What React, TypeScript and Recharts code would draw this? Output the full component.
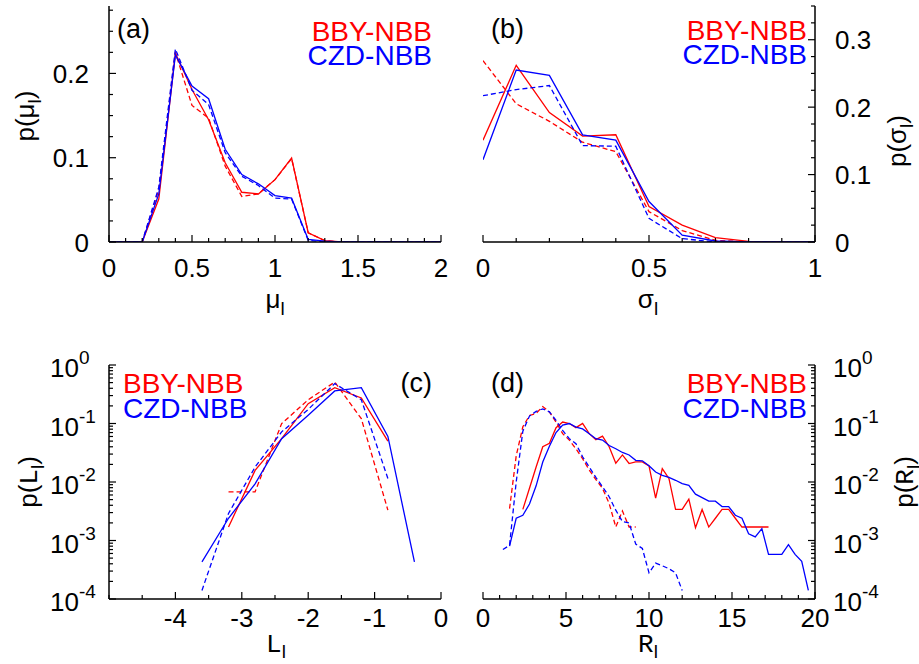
import React from 'react';
import { LineChart, Line, XAxis, YAxis } from 'recharts';

const FONT = '"Liberation Sans", Arial, Helvetica, sans-serif';
const MONO = '"Liberation Mono", "DejaVu Sans Mono", monospace';
const RED = '#ff0000';
const BLUE = '#0000ff';
const SERIES_NAMES = ['BBY-NBB', 'CZD-NBB'];

// ---------- Panel (a): p(mu_l) ----------
const muX = [0, 0.1, 0.2, 0.3, 0.4, 0.5, 0.6, 0.7, 0.8, 0.9, 1, 1.1, 1.2, 1.3, 1.4, 1.5, 1.6, 1.7, 1.8, 1.9, 2];
const muBBY = [0, 0, 0, 0.051, 0.224, 0.181, 0.145, 0.094, 0.059, 0.057, 0.074, 0.0996, 0.011, 0.0016, 0, 0, 0, 0, 0, 0, 0];
const muBBYd = [0, 0, 0, 0.062, 0.225, 0.162, 0.147, 0.09, 0.054, 0.057, 0.074, 0.099, 0.011, 0.0016, 0, 0, 0, 0, 0, 0, 0];
const muCZD = [0, 0, 0, 0.057, 0.222, 0.185, 0.17, 0.11, 0.08, 0.069, 0.055, 0.052, 0.003, 0.001, 0, 0, 0, 0, 0, 0, 0];
const muCZDd = [0, 0, 0, 0.065, 0.229, 0.18, 0.163, 0.106, 0.078, 0.067, 0.052, 0.051, 0.002, 0, 0, 0, 0, 0, 0, 0, 0];
const muXTicks = [0, 0.1, 0.2, 0.3, 0.4, 0.5, 0.6, 0.7, 0.8, 0.9, 1, 1.1, 1.2, 1.3, 1.4, 1.5, 1.6, 1.7, 1.8, 1.9, 2];
const muXMajor = [0, 0.5, 1, 1.5, 2];
const muYTicks = [0, 0.025, 0.05, 0.075, 0.1, 0.125, 0.15, 0.175, 0.2, 0.225, 0.25, 0.275];
const muYMajor = [0, 0.1, 0.2];

// ---------- Panel (b): p(sigma_l) ----------
const sigX = [0, 0.1, 0.2, 0.3, 0.4, 0.5, 0.6, 0.7, 0.8, 0.9, 1];
const sigBBY = [0.151, 0.262, 0.192, 0.157, 0.159, 0.0525, 0.025, 0.0065, 0.001, 0, 0];
const sigBBYd = [0.269, 0.205, 0.179, 0.148, 0.134, 0.045, 0.017, 0.0025, 0, 0, 0];
const sigCZD = [0.122, 0.255, 0.247, 0.159, 0.151, 0.06, 0.01, 0.0015, 0, 0, 0];
const sigCZDd = [0.217, 0.226, 0.232, 0.143, 0.142, 0.035, 0.005, 0, 0, 0, 0];
const sigXTicks = [0, 0.1, 0.2, 0.3, 0.4, 0.5, 0.6, 0.7, 0.8, 0.9, 1];
const sigXMajor = [0, 0.5, 1];
const sigYTicks = [0, 0.025, 0.05, 0.075, 0.1, 0.125, 0.15, 0.175, 0.2, 0.225, 0.25, 0.275, 0.3, 0.325, 0.35];
const sigYMajor = [0, 0.1, 0.2, 0.3];

// ---------- Panel (c): p(L_l) ----------
const LX = [-3.6, -3.2, -2.8, -2.4, -2.0, -1.6, -1.2, -0.8, -0.4];
const LBBY = [null, 0.0017, 0.0158, 0.055, 0.218, 0.41, 0.273, 0.05, null];
const LBBYd = [null, 0.0068, 0.0068, 0.0995, 0.255, 0.51, 0.121, 0.0033, null];
const LCZD = [0.00043, 0.0024, 0.0093, 0.055, 0.138, 0.36, 0.41, 0.06, 0.00043];
const LCZDd = [0.00014, 0.0029, 0.018, 0.072, 0.174, 0.48, 0.255, 0.0115, null];
const LXTicks = [-5, -4.5, -4, -3.5, -3, -2.5, -2, -1.5, -1, -0.5, 0];
const LXMajor = [-4, -3, -2, -1, 0];

// ---------- Panel (d): p(R_l) ----------
const RX = [1.2, 1.6, 2.0, 2.4, 2.8, 3.2, 3.6, 4.0, 4.4, 4.8, 5.2, 5.6, 6.0, 6.4, 6.8, 7.2, 7.6, 8.0, 8.4, 8.8, 9.2, 9.6, 10.0, 10.4, 10.8, 11.2, 11.6, 12.0, 12.4, 12.8, 13.2, 13.6, 14.0, 14.4, 14.8, 15.2, 15.6, 16.0, 16.4, 16.8, 17.2, 17.6, 18.0, 18.4, 18.8, 19.2, 19.6];
const RBBY = [null, null, null, 0.0034, 0.0078, 0.018, 0.04, 0.046, 0.085, 0.106, 0.1, 0.085, 0.1, 0.067, 0.053, 0.061, 0.04, 0.021, 0.029, 0.0207, 0.022, 0.022, 0.0188, 0.0053, 0.017, 0.0115, 0.0034, 0.0034, 0.0051, 0.00165, 0.0034, 0.0017, 0.0024, 0.0034, 0.0034, 0.0024, 0.0017, 0.0017, 0.0017, 0.0017, 0.0017, null, null, null, null, null, null];
const RBBYd = [null, 0.0035, 0.028, 0.088, 0.137, 0.149, 0.195, 0.158, 0.106, 0.067, 0.052, 0.037, 0.025, 0.016, 0.011, 0.0078, 0.0043, 0.0017, 0.0032, 0.0017, 0.0017, null, null, null, null, null, null, null, null, null, null, null, null, null, null, null, null, null, null, null, null, null, null, null, null, null, null];
const RCZD = [null, 0.0008, 0.0024, 0.0027, 0.0042, 0.0086, 0.022, 0.041, 0.07, 0.094, 0.1, 0.087, 0.081, 0.067, 0.055, 0.052, 0.042, 0.037, 0.032, 0.029, 0.0235, 0.023, 0.019, 0.0148, 0.013, 0.012, 0.0107, 0.0094, 0.0088, 0.0062, 0.0054, 0.0047, 0.0047, 0.0038, 0.0038, 0.0027, 0.0024, 0.0013, 0.00115, 0.0016, 0.00058, 0.00058, 0.00058, 0.00085, 0.00058, 0.00044, 0.00014];
const RCZDd = [0.0007, 0.00083, 0.01, 0.074, 0.134, 0.161, 0.178, 0.158, 0.113, 0.076, 0.055, 0.045, 0.027, 0.018, 0.012, 0.0083, 0.0056, 0.0033, 0.0021, 0.002, 0.00087, 0.00073, 0.00028, 0.00041, 0.00037, 0.00033, 0.00028, 0.00014, null, null, null, null, null, null, null, null, null, null, null, null, null, null, null, null, null, null, null];
const RXTicks = [0, 1, 2, 3, 4, 5, 6, 7, 8, 9, 10, 11, 12, 13, 14, 15, 16, 17, 18, 19, 20];
const RXMajor = [0, 5, 10, 15, 20];

// ---------- shared log axis ticks ----------
const LOG_TICKS = [
  0.0001, 0.0002, 0.0003, 0.0004, 0.0005, 0.0006, 0.0007, 0.0008, 0.0009,
  0.001, 0.002, 0.003, 0.004, 0.005, 0.006, 0.007, 0.008, 0.009,
  0.01, 0.02, 0.03, 0.04, 0.05, 0.06, 0.07, 0.08, 0.09,
  0.1, 0.2, 0.3, 0.4, 0.5, 0.6, 0.7, 0.8, 0.9, 1,
];
const LOG_MAJOR = [0.0001, 0.001, 0.01, 0.1, 1];

type Num = number | null;
const rows = (x: number[], a: Num[], b: Num[], c: Num[], d: Num[]) =>
  x.map((v, i) => ({ x: v, rs: a[i], rd: b[i], bs: c[i], bd: d[i] }));

const isMajor = (v: number, majors: number[]) =>
  majors.some((m) => Math.abs(m - v) <= 1e-6 * Math.max(Math.abs(m), 1e-9));

type Side = 'bottom' | 'top' | 'left' | 'right';
interface TickCfg {
  side: Side;
  majors: number[];
  label?: 'lin' | 'log';
  off?: number;
}

const TICK_FS = 26;

function makeTick(cfg: TickCfg) {
  return (p: any) => {
    const x = Number(p.x);
    const y = Number(p.y);
    const v = Number(p.payload?.value);
    const major = isMajor(v, cfg.majors);
    const L = major ? 7 : 4;
    let x2 = x;
    let y2 = y;
    if (cfg.side === 'bottom') y2 = y - L;
    if (cfg.side === 'top') y2 = y + L;
    if (cfg.side === 'left') x2 = x + L;
    if (cfg.side === 'right') x2 = x - L;
    let label: React.ReactNode = null;
    if (major && cfg.label) {
      const base = { fontFamily: FONT, fontSize: TICK_FS, fill: '#000' } as const;
      if (cfg.side === 'bottom') {
        label = (
          <text x={x} y={y + (cfg.off ?? 35)} textAnchor="middle" {...base}>
            {String(v)}
          </text>
        );
      } else if (cfg.label === 'lin') {
        label =
          cfg.side === 'left' ? (
            <text x={x - 20} y={y + 9.5} textAnchor="end" {...base}>{String(v)}</text>
          ) : (
            <text x={x + 20} y={y + 9.5} textAnchor="start" {...base}>{String(v)}</text>
          );
      } else {
        const e = Math.round(Math.log10(v));
        label = (
          <text x={cfg.side === 'left' ? x - 59 : x + 18} y={y + 12} textAnchor="start" {...base}>
            10<tspan dy={-13} fontSize={19}>{String(e)}</tspan>
          </text>
        );
      }
    }
    return (
      <g>
        <line x1={x} y1={y} x2={x2} y2={y2} stroke="#000" strokeWidth={1.2} />
        {label}
      </g>
    );
  };
}

interface PanelCfg {
  left: number;
  top: number;
  w: number;
  h: number;
  data: any[];
  xDomain: [number, number];
  xTicks: number[];
  xMajor: number[];
  xOff: number;
  yDomain: [number, number];
  yTicks: number[];
  yMajor: number[];
  log: boolean;
  yRight: boolean;
  mTop: number;
  xH: number;
}

const AX = { stroke: '#000', strokeWidth: 1.5 };

function Panel(c: PanelCfg) {
  const yLabelKind = c.log ? 'log' : 'lin';
  const yScale = c.log ? 'log' : 'linear';
  const margin = c.yRight
    ? { top: c.mTop, right: 0, bottom: 0, left: 23 }
    : { top: c.mTop, right: 19, bottom: 0, left: 0 };
  const labeledYId = c.yRight ? 'r' : 'l';
  const common = { isAnimationActive: false, dot: false, xAxisId: 'b', yAxisId: labeledYId, type: 'linear' as const, strokeWidth: 1.3, connectNulls: false };
  return (
    <div style={{ position: 'absolute', left: c.left, top: c.top, width: c.w, height: c.h }}>
      <LineChart width={c.w} height={c.h} data={c.data} margin={margin}>
        <XAxis
          xAxisId="b"
          dataKey="x"
          type="number"
          domain={c.xDomain}
          allowDataOverflow
          ticks={c.xTicks}
          interval={0}
          height={c.xH}
          tickSize={0}
          tickMargin={0}
          tickLine={false}
          axisLine={AX}
          tick={makeTick({ side: 'bottom', majors: c.xMajor, label: 'lin', off: c.xOff })}
        />
        <XAxis
          xAxisId="t"
          orientation="top"
          mirror
          dataKey="x"
          type="number"
          domain={c.xDomain}
          allowDataOverflow
          ticks={c.xTicks}
          interval={0}
          height={0}
          tickSize={0}
          tickMargin={0}
          tickLine={false}
          axisLine={AX}
          tick={makeTick({ side: 'top', majors: c.xMajor })}
        />
        <YAxis
          yAxisId="l"
          orientation="left"
          mirror={c.yRight}
          type="number"
          scale={yScale}
          domain={c.yDomain}
          allowDataOverflow
          ticks={c.yTicks}
          interval={0}
          width={c.yRight ? 0 : 109}
          tickSize={0}
          tickMargin={0}
          tickLine={false}
          axisLine={AX}
          tick={makeTick({ side: 'left', majors: c.yMajor, label: c.yRight ? undefined : yLabelKind })}
        />
        <YAxis
          yAxisId="r"
          orientation="right"
          mirror={!c.yRight}
          type="number"
          scale={yScale}
          domain={c.yDomain}
          allowDataOverflow
          ticks={c.yTicks}
          interval={0}
          width={c.yRight ? 104 : 0}
          tickSize={0}
          tickMargin={0}
          tickLine={false}
          axisLine={AX}
          tick={makeTick({ side: 'right', majors: c.yMajor, label: c.yRight ? yLabelKind : undefined })}
        />
        <Line {...common} dataKey="rs" stroke={RED} />
        <Line {...common} dataKey="rd" stroke={RED} strokeDasharray="5 3" />
        <Line {...common} dataKey="bs" stroke={BLUE} />
        <Line {...common} dataKey="bd" stroke={BLUE} strokeDasharray="5 3" />
      </LineChart>
    </div>
  );
}

const T = { fontFamily: FONT, fontSize: 26, fill: '#000' } as const;
const LEG = { fontFamily: FONT, fontSize: 28 } as const;

function Overlay() {
  return (
    <svg width={919} height={664} style={{ position: 'absolute', left: 0, top: 0, pointerEvents: 'none' }}>
      {/* panel letters */}
      <text x={117} y={38} {...T} fontSize={27}>(a)</text>
      <text x={491} y={38} {...T} fontSize={27}>(b)</text>
      <text x={432} y={392} {...T} fontSize={27} textAnchor="end">(c)</text>
      <text x={491} y={392} {...T} fontSize={27}>(d)</text>

      {/* legends */}
      <text x={432} y={40.5} {...LEG} fill={RED} textAnchor="end">{SERIES_NAMES[0]}</text>
      <text x={432} y={65} {...LEG} fill={BLUE} textAnchor="end">{SERIES_NAMES[1]}</text>
      <text x={807} y={39.5} {...LEG} fill={RED} textAnchor="end">{SERIES_NAMES[0]}</text>
      <text x={807} y={63.5} {...LEG} fill={BLUE} textAnchor="end">{SERIES_NAMES[1]}</text>
      <text x={123} y={393} {...LEG} fill={RED}>{SERIES_NAMES[0]}</text>
      <text x={123} y={418} {...LEG} fill={BLUE}>{SERIES_NAMES[1]}</text>
      <text x={807} y={393} {...LEG} fill={RED} textAnchor="end">{SERIES_NAMES[0]}</text>
      <text x={807} y={418} {...LEG} fill={BLUE} textAnchor="end">{SERIES_NAMES[1]}</text>

      {/* x titles */}
      <text x={275} y={308} {...T} textAnchor="middle">
        μ<tspan fontSize={19} dy={7}>l</tspan>
      </text>
      <text x={648} y={308} {...T} textAnchor="middle">
        σ<tspan fontSize={19} dy={7}>l</tspan>
      </text>
      <text x={276} y={652} {...T} textAnchor="middle">
        <tspan fontFamily={MONO}>L</tspan><tspan fontSize={19} dy={6}>l</tspan>
      </text>
      <text x={648} y={652} {...T} textAnchor="middle">
        <tspan fontFamily={MONO}>R</tspan><tspan fontSize={19} dy={6}>l</tspan>
      </text>

      {/* y titles */}
      <text x={34} y={116} {...T} textAnchor="middle" transform="rotate(-90 34 116)">
        p(μ<tspan fontSize={19} dy={7}>l</tspan><tspan dy={-7}>)</tspan>
      </text>
      <text x={906} y={141} {...T} textAnchor="middle" transform="rotate(-90 906 141)">
        p(σ<tspan fontSize={19} dy={7}>l</tspan><tspan dy={-7}>)</tspan>
      </text>
      <text x={37} y={482} {...T} textAnchor="middle" transform="rotate(-90 37 482)">
        p(<tspan fontFamily={MONO}>L</tspan><tspan fontSize={19} dy={7}>l</tspan><tspan dy={-7}>)</tspan>
      </text>
      <text x={913} y={482} {...T} textAnchor="middle" transform="rotate(-90 913 482)">
        p(<tspan fontFamily={MONO}>R</tspan><tspan fontSize={19} dy={7}>l</tspan><tspan dy={-7}>)</tspan>
      </text>
    </svg>
  );
}

export default function App() {
  return (
    <div style={{ position: 'absolute', left: 0, top: 0, width: 919, height: 664, background: '#fff', overflow: 'hidden' }}>
      <Panel
        left={0} top={0} w={460} h={330}
        data={rows(muX, muBBY, muBBYd, muCZD, muCZDd)}
        xDomain={[0, 2]} xTicks={muXTicks} xMajor={muXMajor} xOff={35}
        yDomain={[0, 0.28]} yTicks={muYTicks} yMajor={muYMajor}
        log={false} yRight={false} mTop={6} xH={88}
      />
      <Panel
        left={460} top={0} w={459} h={330}
        data={rows(sigX, sigBBY, sigBBYd, sigCZD, sigCZDd)}
        xDomain={[0, 1]} xTicks={sigXTicks} xMajor={sigXMajor} xOff={35}
        yDomain={[0, 0.35]} yTicks={sigYTicks} yMajor={sigYMajor}
        log={false} yRight={true} mTop={6} xH={88}
      />
      <Panel
        left={0} top={330} w={460} h={334}
        data={rows(LX, LBBY, LBBYd, LCZD, LCZDd)}
        xDomain={[-5, 0]} xTicks={LXTicks} xMajor={LXMajor} xOff={28}
        yDomain={[0.0001, 1]} yTicks={LOG_TICKS} yMajor={LOG_MAJOR}
        log={true} yRight={false} mTop={35} xH={65}
      />
      <Panel
        left={460} top={330} w={459} h={334}
        data={rows(RX, RBBY, RBBYd, RCZD, RCZDd)}
        xDomain={[0, 20]} xTicks={RXTicks} xMajor={RXMajor} xOff={28}
        yDomain={[0.0001, 1]} yTicks={LOG_TICKS} yMajor={LOG_MAJOR}
        log={true} yRight={true} mTop={35} xH={65}
      />
      <Overlay />
    </div>
  );
}
